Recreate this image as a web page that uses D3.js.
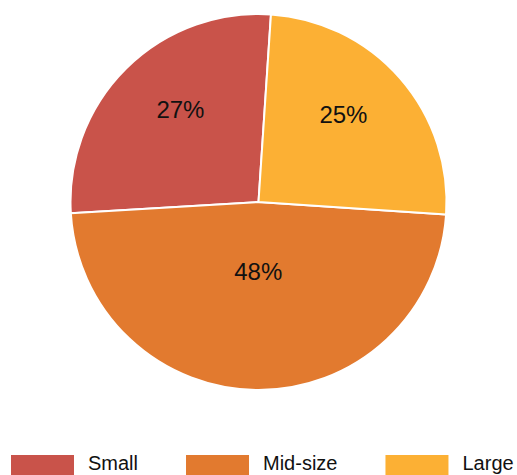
<!DOCTYPE html>
<html>
<head>
<meta charset="utf-8">
<script src="https://cdn.jsdelivr.net/npm/d3@7"></script>
<style>
  html, body { margin: 0; padding: 0; background: #fff; }
  svg { display: block; font-family: "Liberation Sans", Arial, Helvetica, sans-serif; }
</style>
</head>
<body>
<svg id="chart" width="517" height="475"></svg>
<script>
// Share of vehicles by size class
const categories = ["Small", "Mid-size", "Large"];
const shares = [27, 48, 25];
const sliceColors = ["#c9534a", "#e27a2f", "#fcb034"];

const width = 517, height = 475;
const cx = 258.5, cy = 202, radius = 188;

const svg = d3.select("#chart");
const g = svg.append("g").attr("transform", `translate(${cx},${cy})`);

// Slices run counter-clockwise from just right of twelve o'clock
const start = 3.8 * Math.PI / 180;
const pie = d3.pie().sort(null).value(d => d)
  .startAngle(start + 2 * Math.PI).endAngle(start);
const arcs = pie(shares);

const arc = d3.arc().innerRadius(0).outerRadius(radius);
const color = d3.scaleOrdinal().domain(categories).range(sliceColors);

g.selectAll("path.slice")
  .data(arcs)
  .join("path")
  .attr("class", "slice")
  .attr("d", arc)
  .attr("fill", (d, i) => color(categories[i]))
  .attr("stroke", "#fff")
  .attr("stroke-width", 2)
  .attr("stroke-linejoin", "round");

// Percentage labels near the area centroid of each sector
g.selectAll("text.pct")
  .data(arcs)
  .join("text")
  .attr("class", "pct")
  .attr("transform", d => {
    const a0 = Math.min(d.startAngle, d.endAngle), a1 = Math.max(d.startAngle, d.endAngle);
    const th = a1 - a0, mid = (a0 + a1) / 2;
    const rc = 4 * radius * Math.sin(th / 2) / (3 * th);
    const x = rc * Math.sin(mid), y = -rc * Math.cos(mid);
    return `translate(${x},${y - 5})`;
  })
  .attr("text-anchor", "middle")
  .attr("font-size", 24)
  .attr("fill", "#111")
  .text(d => d.data + "%");

// Legend along the bottom edge
const legend = svg.append("g").attr("transform", "translate(11,455)");
const swatchW = 63, swatchH = 20, textGap = 14, itemGap = 48;
let xPos = 0;
categories.forEach((c, i) => {
  const item = legend.append("g").attr("transform", `translate(${xPos},0)`);
  item.append("rect")
    .attr("width", swatchW).attr("height", swatchH)
    .attr("fill", color(c));
  const t = item.append("text")
    .attr("x", swatchW + textGap).attr("y", 15)
    .attr("font-size", 20)
    .attr("fill", "#111")
    .text(c);
  xPos += swatchW + textGap + t.node().getComputedTextLength() + itemGap;
});
</script>
</body>
</html>
